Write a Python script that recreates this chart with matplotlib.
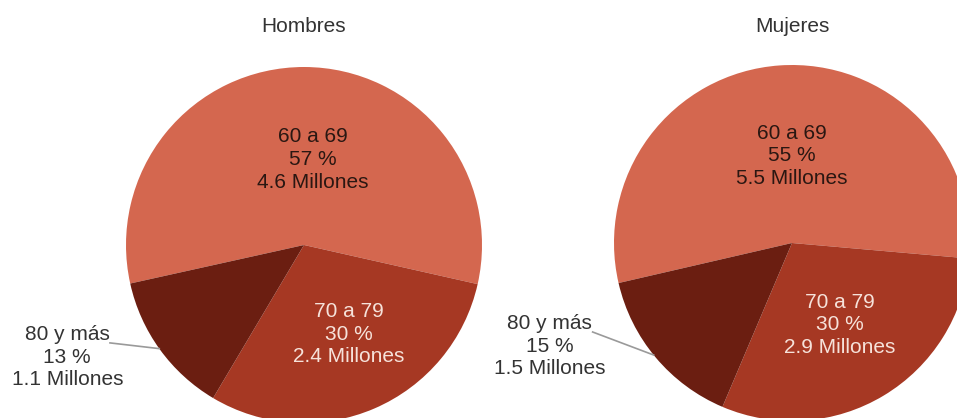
import numpy as np
import matplotlib
matplotlib.use("Agg")
import matplotlib.pyplot as plt

plt.rcParams['font.family'] = ['Liberation Sans', 'DejaVu Sans']

groups = ["60 a 69", "70 a 79", "80 y más"]
hombres_pct = [57, 30, 13]
hombres_mill = [4.6, 2.4, 1.1]
mujeres_pct = [55, 30, 15]
mujeres_mill = [5.5, 2.9, 1.5]
titles = ["Hombres", "Mujeres"]

colors = ["#D4674F", "#A63823", "#6B1E11"]
text_colors = ["#2a1712", "#F6E2DA", "#333333"]

W, H = 957, 418
fig = plt.figure(figsize=(W / 100, H / 100), dpi=100)
ax = fig.add_axes([0, 0, 1, 1])

# pixel-based layout: (cx, cy from top, radius, start angle, label offsets, leader angle)
layouts = [
    dict(cx=304, cy=245, r=178, start=192.5,
         offs=[(0.05, 0.48), (0.25, -0.50), (-1.33, -0.63)], lead=215.6),
    dict(cx=792, cy=243, r=178, start=193.0,
         offs=[(0.0, 0.49), (0.27, -0.46), (-1.36, -0.58)], lead=219.0),
]

for pct, mill, title, lay in zip([hombres_pct, mujeres_pct],
                                 [hombres_mill, mujeres_mill], titles, layouts):
    cx, cy, r = lay["cx"], H - lay["cy"], lay["r"]
    ax.pie(pct, colors=colors, startangle=lay["start"], counterclock=False,
           center=(cx, cy), radius=r, frame=True,
           wedgeprops=dict(linewidth=0))
    for i in range(3):
        dx, dy = lay["offs"][i]
        ax.text(cx + dx * r, cy + dy * r,
                f"{groups[i]}\n{pct[i]} %\n{mill[i]} Millones",
                ha="center", va="center", fontsize=15, linespacing=1.25,
                color=text_colors[i])
    # leader line for the outside label
    a = np.deg2rad(lay["lead"])
    ex, ey = cx + r * np.cos(a), cy + r * np.sin(a)
    tx, ty = cx + (lay["offs"][2][0] + 0.24) * r, cy + (lay["offs"][2][1] + 0.08) * r
    ax.plot([tx, ex], [ty, ey], color="#9a9a9a", lw=1.2)
    ax.text(cx, H - 26, title, ha="center", va="center", fontsize=15,
            color="#333333")

ax.set_xlim(0, W)
ax.set_ylim(0, H)
ax.set_aspect("equal")
ax.axis("off")

fig.savefig("out.png", dpi=100)
